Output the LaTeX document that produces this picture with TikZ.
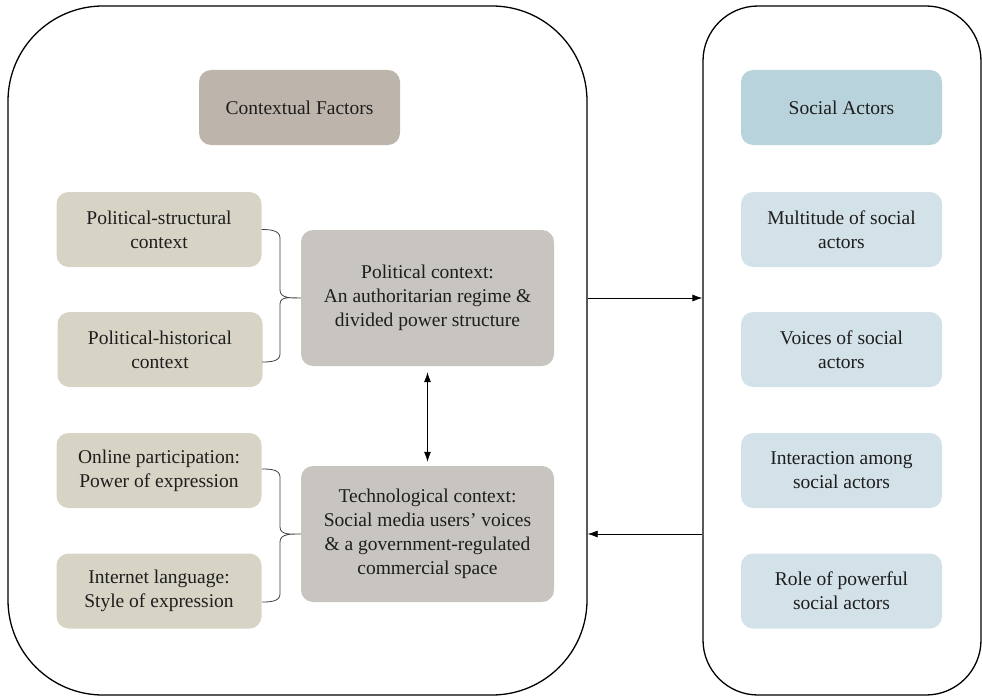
\documentclass[tikz,border=0pt]{standalone}
\usepackage{fontspec}
\setmainfont{Liberation Serif}
\usetikzlibrary{calc, positioning, arrows.meta}
\definecolor{ctxhead}{HTML}{BDB5AB}
\definecolor{ctxsub}{HTML}{D7D4C6}
\definecolor{ctxmain}{HTML}{C8C4BF}
\definecolor{acthead}{HTML}{B9D3DD}
\definecolor{actsub}{HTML}{D3E2E9}
\definecolor{txt}{HTML}{1E1E1E}

\begin{document}
\begin{tikzpicture}[x=1pt, y=-1pt, >={Latex[length=10pt,width=7pt]},
    frame/.style={draw, line width=1.3pt, inner sep=0pt},
    box/.style={rounded corners=12pt, align=center, text=txt, inner sep=0pt,
        font=\fontsize{19.5}{24}\selectfont, minimum width=205pt, minimum height=75pt},
    mainbox/.style={box, fill=ctxmain, minimum width=253pt, minimum height=136pt},
    brk/.style={draw, line width=0.8pt, black!75},
    link/.style={line width=0.8pt}]
        \useasboundingbox (0,0) rectangle (982,698);

        % outer frames
        \node[frame, rounded corners=95pt, minimum width=579pt, minimum height=689pt] (lframe) at (297.5,350.5) {};
        \node[frame, rounded corners=55pt, minimum width=278pt, minimum height=689pt] (rframe) at (842,350.5) {};

        % contextual factors
        \node[box, fill=ctxhead, minimum width=201pt] (ctx) at (299.5,107.5) {Contextual Factors};
        \node[box, fill=ctxsub] (pstruct) at (159,229.5) {Political-structural\\context};
        \node[box, fill=ctxsub] (phist) at (160,349.5) {Political-historical\\context};
        \node[box, fill=ctxsub] (online) at (159,470.5) {Online participation:\\Power of expression};
        \node[box, fill=ctxsub] (inet) at (159,591) {Internet language:\\Style of expression};
        \node[mainbox] (pol) at (427.5,298) {Political context:\\An authoritarian regime \&\\divided power structure};
        \node[mainbox] (tech) at (427.5,534) {Technological context:\\Social media users' voices\\\& a government-regulated\\commercial space};

        % social actors
        \node[box, fill=acthead, minimum width=201pt] (act) at (841.5,107.5) {Social Actors};
        \node[box, fill=actsub, minimum width=201pt] (multi) at (841.5,229.5) {Multitude of social\\actors};
        \node[box, fill=actsub, minimum width=201pt] (voice) at (841.5,349.5) {Voices of social\\actors};
        \node[box, fill=actsub, minimum width=201pt] (inter) at (841.5,470.5) {Interaction among\\social actors};
        \node[box, fill=actsub, minimum width=201pt] (role) at (841.5,591) {Role of powerful\\social actors};

        % braces
        \draw[brk] (pstruct.east) to[out=0,in=90] (280,238) -- (280,290) to[out=-90,in=180] (pol.west)
            to[out=180,in=90] (280,304) -- (280,354) to[out=-90,in=0] (262,362);
        \draw[brk] (online.east) ++(0,-1.5) to[out=0,in=90] (280,477) -- (280,527) to[out=-90,in=180] (tech.west)
            to[out=180,in=90] (280,542) -- (280,594) to[out=-90,in=0] (262,602);

        % arrows
        \draw[link, <->, shorten <=6pt, shorten >=4pt] (pol.south) -- (tech.north);
        \draw[link, ->] (pol -| lframe.east) -- (pol -| rframe.west);
        \draw[link, <-] (tech -| lframe.east) -- (tech -| rframe.west);
    \end{tikzpicture}
\end{document}
